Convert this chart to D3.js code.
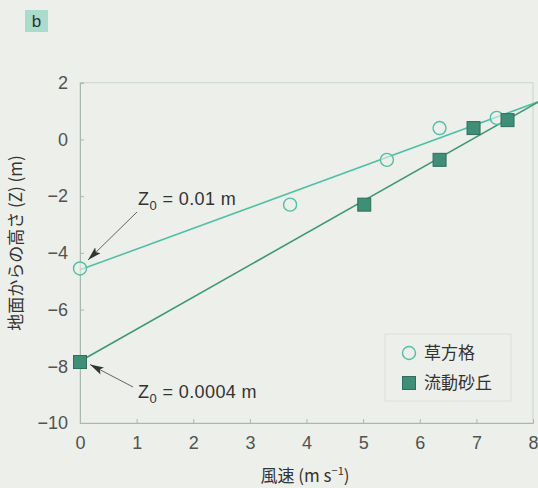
<!DOCTYPE html>
<html>
<head>
  <script src="https://d3js.org/d3.v7.min.js"></script>
  <style>
    body { margin: 0; background: #edefeb; }
    svg { display: block; font-family: "Liberation Sans", Arial, sans-serif; }
  </style>
</head>
<body>
  <div id="chart"></div>
  <script>
    // wind speed (m/s) and ln height values
    const grassSpeed = [0, 3.71, 5.42, 6.35, 7.36];
    const grassHeight = [-4.55, -2.3, -0.72, 0.4, 0.76];
    const duneSpeed = [0, 5.02, 6.35, 6.95, 7.55];
    const duneHeight = [-7.85, -2.3, -0.72, 0.4, 0.68];

    // fitted lines, end points
    const grassFit = [[0, -4.6], [8.1, 1.33]];
    const duneFit = [[0, -7.82], [8.1, 1.33]];

    const xTicks = [0, 1, 2, 3, 4, 5, 6, 7, 8];
    const yTicks = [-10, -8, -6, -4, -2, 0, 2];
    const seriesNames = ["草方格", "流動砂丘"];

    const W = 538, H = 488;
    const margin = { top: 82.7, right: 5, bottom: 65, left: 80 };

    const svg = d3.select("#chart").append("svg")
      .attr("width", W).attr("height", H);

    const x = d3.scaleLinear().domain([0, 8]).range([margin.left, 533]);
    const y = d3.scaleLinear().domain([-10, 2]).range([423, margin.top]);

    const grassColor = "#52bfa6";
    const duneColor = "#3e9878";
    const axisColor = "#a9b9b2";
    const textColor = "#4f5452";

    // panel tag
    svg.append("rect").attr("x", 25).attr("y", 10).attr("width", 23).attr("height", 22)
      .attr("fill", "#a9dccd");
    svg.append("text").attr("x", 36.5).attr("y", 27).attr("text-anchor", "middle")
      .attr("font-size", 17).attr("fill", "#333").text("b");

    // frame
    svg.append("rect")
      .attr("x", x(0)).attr("y", y(2))
      .attr("width", x(8) - x(0)).attr("height", y(-10) - y(2))
      .attr("fill", "none").attr("stroke", "#c9d6cf").attr("stroke-width", 1);

    // axes
    const xAxis = d3.axisBottom(x).tickValues(xTicks).tickSize(-4).tickPadding(13)
      .tickFormat(d3.format("d"));
    const yAxis = d3.axisLeft(y).tickValues(yTicks).tickSize(-4).tickPadding(12)
      .tickFormat(d => d < 0 ? "\u2212" + Math.abs(d) : d);

    const gx = svg.append("g").attr("transform", `translate(0,${y(-10)})`).call(xAxis);
    const gy = svg.append("g").attr("transform", `translate(${x(0)},0)`).call(yAxis);
    [gx, gy].forEach(g => {
      g.select(".domain").attr("stroke", axisColor);
      g.selectAll(".tick line").attr("stroke", axisColor);
      g.selectAll(".tick text").attr("fill", textColor).attr("font-size", 18)
        .attr("font-family", "Liberation Sans, Arial, sans-serif");
    });

    // fitted lines
    const line = d3.line().x(d => x(d[0])).y(d => y(d[1]));
    svg.append("path").datum(grassFit).attr("d", line)
      .attr("fill", "none").attr("stroke", grassColor).attr("stroke-width", 1.6);
    svg.append("path").datum(duneFit).attr("d", line)
      .attr("fill", "none").attr("stroke", duneColor).attr("stroke-width", 1.6);

    // points
    svg.selectAll(".grass").data(grassSpeed).join("circle")
      .attr("class", "grass")
      .attr("cx", d => x(d)).attr("cy", (d, i) => y(grassHeight[i]))
      .attr("r", 6.5).attr("fill", "#edefeb").attr("fill-opacity", 0.6)
      .attr("stroke", grassColor).attr("stroke-width", 1.4);

    svg.selectAll(".dune").data(duneSpeed).join("rect")
      .attr("class", "dune")
      .attr("x", d => x(d) - 6.5).attr("y", (d, i) => y(duneHeight[i]) - 6.5)
      .attr("width", 13).attr("height", 13)
      .attr("fill", "#3f8e77").attr("stroke", "#2f6e5c").attr("stroke-width", 1);

    // annotation arrows
    const defs = svg.append("defs");
    defs.append("marker").attr("id", "arr").attr("viewBox", "0 0 14 8")
      .attr("refX", 14).attr("refY", 4).attr("markerWidth", 14).attr("markerHeight", 8)
      .attr("markerUnits", "userSpaceOnUse").attr("orient", "auto")
      .append("path").attr("d", "M0,0 L14,4 L0,8 L3,4 Z").attr("fill", "#333");

    svg.append("line").attr("x1", 137).attr("y1", 212).attr("x2", 88).attr("y2", 260)
      .attr("stroke", "#555").attr("stroke-width", 0.9).attr("marker-end", "url(#arr)");
    svg.append("line").attr("x1", 133).attr("y1", 387).attr("x2", 90).attr("y2", 364.5)
      .attr("stroke", "#555").attr("stroke-width", 0.9).attr("marker-end", "url(#arr)");

    function zLabel(px, py, value) {
      const t = svg.append("text").attr("x", px).attr("y", py)
        .attr("font-size", 18).attr("letter-spacing", 0.4).attr("fill", "#333");
      t.append("tspan").text("Z");
      t.append("tspan").attr("dy", 5).attr("font-size", 13).text("0");
      t.append("tspan").attr("dy", -5).text(" = " + value + " m");
    }
    zLabel(138, 205, "0.01");
    zLabel(138, 398, "0.0004");

    // legend
    svg.append("rect").attr("x", 385).attr("y", 334).attr("width", 126).attr("height", 67)
      .attr("fill", "none").attr("stroke", "#d9e2dd").attr("stroke-width", 1);
    svg.append("circle").attr("cx", 409).attr("cy", 353).attr("r", 6.5)
      .attr("fill", "none").attr("stroke", grassColor).attr("stroke-width", 1.4);
    svg.append("rect").attr("x", 402.5).attr("y", 376.5).attr("width", 13).attr("height", 13)
      .attr("fill", "#3f8e77").attr("stroke", "#2f6e5c");
    svg.selectAll(".legtext").data(seriesNames).join("text")
      .attr("class", "legtext")
      .attr("x", 424).attr("y", (d, i) => 359 + i * 30)
      .attr("font-size", 17).attr("fill", "#333")
      .attr("font-family", "Noto Sans CJK JP, sans-serif")
      .text(d => d);

    // axis titles
    const xt = svg.append("text").attr("x", 305).attr("y", 482).attr("text-anchor", "middle")
      .attr("font-size", 17).attr("fill", "#333")
      .attr("font-family", "Noto Sans CJK JP, sans-serif");
    xt.append("tspan").text("風速 (m s");
    xt.append("tspan").attr("dy", -7).attr("font-size", 11).text("−1");
    xt.append("tspan").attr("dy", 7).text(")");

    svg.append("text")
      .attr("transform", "translate(22,243) rotate(-90)")
      .attr("text-anchor", "middle").attr("font-size", 17).attr("fill", "#333")
      .attr("font-family", "Noto Sans CJK JP, sans-serif")
      .text("地面からの高さ (Z) (m)");
  </script>
</body>
</html>
